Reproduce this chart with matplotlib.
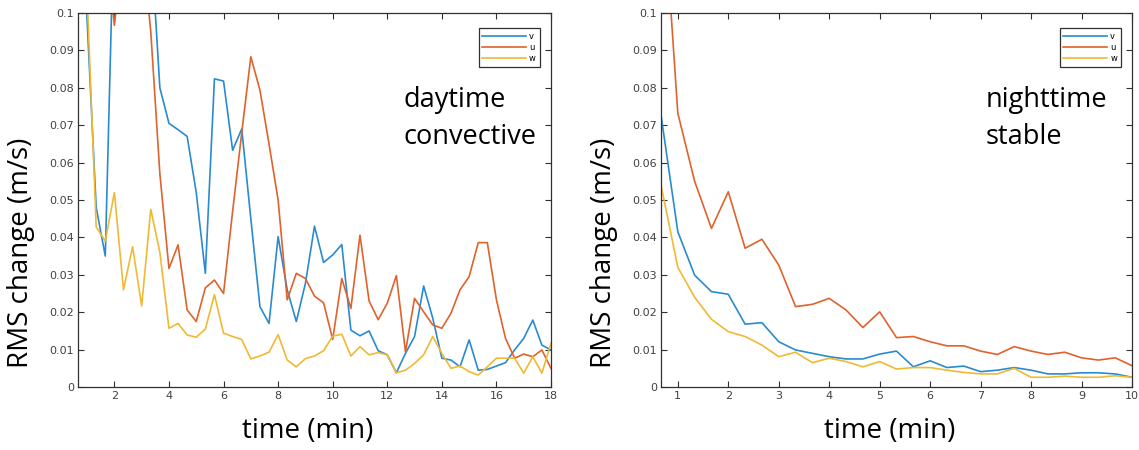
import numpy as np
import matplotlib
matplotlib.use("Agg")
import matplotlib.pyplot as plt

# time axis: samples every 20 s (1/3 min)
t_day = np.arange(2, 55) / 3.0
t_night = np.arange(2, 31) / 3.0

# daytime convective
v_day = [0.15, 0.098, 0.048, 0.035, 0.13, 0.14, 0.15, 0.14, 0.12, 0.080,
         0.0705, 0.0688, 0.067, 0.052, 0.0304, 0.0824, 0.0818, 0.0633, 0.069, 0.045,
         0.0215, 0.017, 0.0402, 0.026, 0.0175, 0.0277, 0.043, 0.0333, 0.0353, 0.0381,
         0.0152, 0.0137, 0.015, 0.0097, 0.0086, 0.0038, 0.009, 0.0135, 0.027, 0.0184,
         0.0077, 0.0072, 0.0054, 0.0126, 0.0045, 0.0047, 0.0056, 0.0065, 0.0099, 0.013,
         0.0179, 0.0112, 0.0099]
u_day = [0.15, 0.14, 0.13, 0.12, 0.0967, 0.12, 0.14, 0.12, 0.095, 0.057,
         0.0317, 0.038, 0.0206, 0.0175, 0.0265, 0.0286, 0.025, 0.047, 0.068, 0.0883,
         0.0794, 0.065, 0.05, 0.0233, 0.0304, 0.029, 0.0243, 0.0225, 0.0127, 0.029,
         0.021, 0.0406, 0.023, 0.018, 0.0224, 0.0298, 0.0094, 0.0237, 0.0201, 0.0166,
         0.0157, 0.0197, 0.026, 0.0295, 0.0386, 0.0386, 0.0233, 0.013, 0.0077, 0.0088,
         0.0081, 0.0099, 0.005]
w_day = [0.15, 0.105, 0.0428, 0.039, 0.052, 0.026, 0.0375, 0.0217, 0.0475, 0.036,
         0.0157, 0.017, 0.0139, 0.0133, 0.0155, 0.0247, 0.0144, 0.0135, 0.0127, 0.0075,
         0.0083, 0.0093, 0.014, 0.0072, 0.0054, 0.0076, 0.0083, 0.0097, 0.0136, 0.0141,
         0.0083, 0.0108, 0.0086, 0.0092, 0.0086, 0.0038, 0.0045, 0.0063, 0.0086, 0.0135,
         0.009, 0.005, 0.0056, 0.0041, 0.0032, 0.0054, 0.0077, 0.0077, 0.0077, 0.0037,
         0.0081, 0.0037, 0.0117]

# nighttime stable
v_night = [0.0727, 0.0415, 0.0299, 0.0255, 0.0248, 0.0168, 0.0172, 0.0121, 0.0099, 0.009,
           0.0081, 0.0075, 0.0075, 0.0088, 0.0096, 0.0054, 0.007, 0.0052, 0.0056, 0.0041,
           0.0045, 0.0052, 0.0045, 0.0035, 0.0035, 0.0038, 0.0038, 0.0035, 0.0026]
u_night = [0.14, 0.0732, 0.055, 0.0424, 0.0522, 0.0371, 0.0395, 0.0326, 0.0215, 0.0221,
           0.0237, 0.0206, 0.0159, 0.0201, 0.0132, 0.0135, 0.0121, 0.011, 0.011, 0.0096,
           0.0087, 0.0108, 0.0096, 0.0087, 0.0093, 0.0078, 0.0072, 0.0078, 0.0057]
w_night = [0.054, 0.032, 0.024, 0.0181, 0.0148, 0.0135, 0.0112, 0.0081, 0.0093, 0.0065,
           0.0077, 0.0068, 0.0054, 0.0068, 0.0048, 0.0052, 0.0052, 0.0045, 0.0039, 0.0035,
           0.0035, 0.005, 0.0026, 0.0026, 0.0029, 0.0026, 0.0026, 0.003, 0.0026]

labels = ["v", "u", "w"]
colors = ["#2a8ad0", "#e0622c", "#f0b934"]
y_ticks = [0, 0.01, 0.02, 0.03, 0.04, 0.05, 0.06, 0.07, 0.08, 0.09, 0.1]
y_ticklabels = ["0", "0.01", "0.02", "0.03", "0.04", "0.05", "0.06", "0.07", "0.08", "0.09", "0.1"]

W, H = 1139, 450
fig = plt.figure(figsize=(W / 100, H / 100), dpi=100)
txt_font = "Open Sans"


def make_axes(l, r, top, bot):
    return fig.add_axes([l / W, 1 - bot / H, (r - l) / W, (bot - top) / H])


def style(ax, xlim, xticks, note, note_x):
    ax.set_xlim(*xlim)
    ax.set_ylim(0, 0.1)
    ax.set_xticks(xticks)
    ax.set_xticklabels([str(x) for x in xticks])
    ax.set_yticks(y_ticks)
    ax.set_yticklabels(y_ticklabels)
    ax.tick_params(direction="in", length=4, width=0.8, top=True, right=True,
                   labelsize=8, labelcolor="#404040", color="#303030", pad=3)
    for s in ax.spines.values():
        s.set_color("#303030")
        s.set_linewidth(0.9)
    yl = ax.set_ylabel("RMS change (m/s)", fontsize=20, family=txt_font)
    yl.set_va("center")
    ax.yaxis.set_label_coords(-0.12, 0.36)
    xl = ax.set_xlabel("time (min)", fontsize=20, family=txt_font)
    xl.set_va("center")
    ax.xaxis.set_label_coords(0.485, -0.118)
    leg = ax.legend(loc="upper right", fontsize=6, handlelength=5.2, borderpad=0.45,
                    labelspacing=0.25, handletextpad=0.4, fancybox=False, framealpha=1,
                    bbox_to_anchor=(0.985, 0.97))
    leg.get_frame().set_edgecolor("#303030")
    leg.get_frame().set_linewidth(0.9)
    ax.text(note_x, 0.805, note, transform=ax.transAxes, fontsize=19.5,
            family=txt_font, va="top", ha="left", linespacing=1.45)


ax1 = make_axes(78, 551, 13, 387)
for y, c, lab in zip([v_day, u_day, w_day], colors, labels):
    ax1.plot(t_day, y, color=c, lw=1.2, label=lab)
style(ax1, (2 / 3, 18), [2, 4, 6, 8, 10, 12, 14, 16, 18], "daytime\nconvective", 0.688)

ax2 = make_axes(661, 1132, 13, 387)
for y, c, lab in zip([v_night, u_night, w_night], colors, labels):
    ax2.plot(t_night, y, color=c, lw=1.2, label=lab)
style(ax2, (2 / 3, 10), [1, 2, 3, 4, 5, 6, 7, 8, 9, 10], "nighttime\nstable", 0.69)

fig.savefig("out.png", dpi=100)
